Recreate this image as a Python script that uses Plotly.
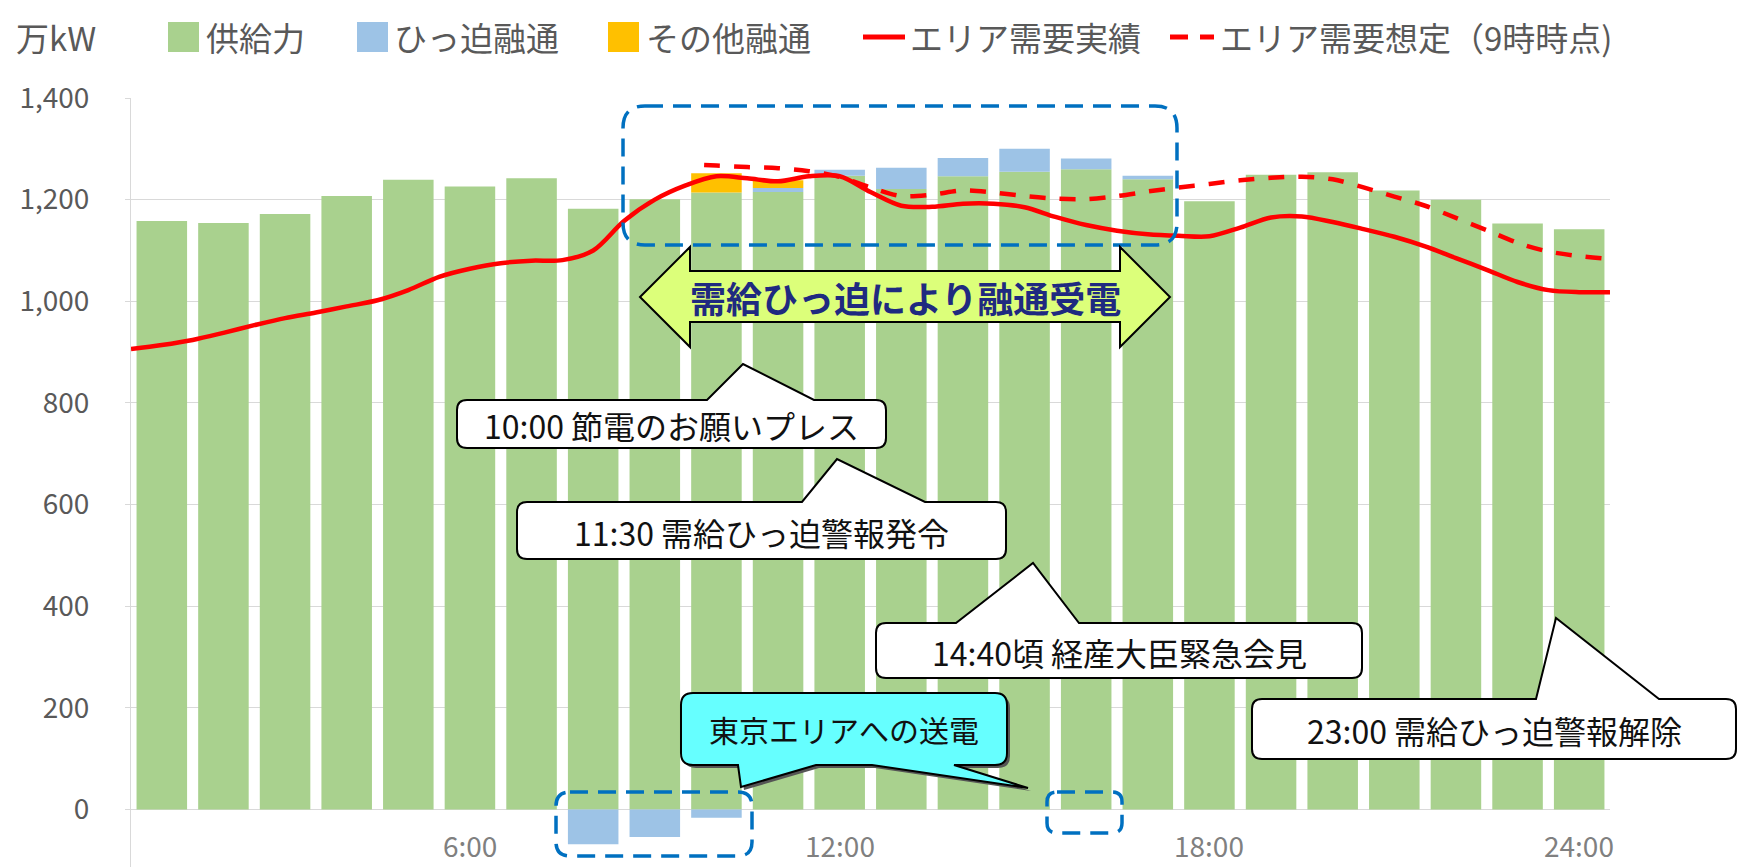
import plotly.graph_objects as go

# ---------------- data (万kW) ----------------
hours = list(range(1, 25))  # hour-ending slots 1..24
supply = [1158, 1154, 1172, 1207, 1239, 1226, 1242, 1182, 1201, 1214, 1215, 1247,
          1221, 1246, 1255, 1260, 1240, 1197, 1249, 1254, 1218, 1200, 1153, 1142]
tight_interchange = [0, 0, 0, 0, 0, 0, 0, -68, -54, -16, 8, 12,
                     42, 36, 45, 21, 7, 0, 0, 0, 0, 0, 0, 0]
other_interchange = [0, 0, 0, 0, 0, 0, 0, 0, 0, 38, 15, 0,
                     0, 0, 0, 0, 0, 0, 0, 0, 0, 0, 0, 0]

demand_times = [h / 2 for h in range(49)]  # 0:00 .. 24:00 every 30 min
demand_actual = [906, 914, 924, 938, 953, 967, 978, 990, 1002, 1022, 1048, 1064,
                 1075, 1080, 1081, 1100, 1158, 1200, 1228, 1246, 1242, 1236, 1246, 1246,
                 1215, 1188, 1186, 1192, 1192, 1185, 1166, 1150, 1139, 1132, 1129, 1128,
                 1145, 1165, 1167, 1156, 1142, 1127, 1108, 1085, 1062, 1038, 1022, 1018, 1018]

forecast_times = [9.3, 9.5, 10.0, 10.5, 11.0, 11.5, 12.0, 12.5, 13.0, 13.5, 14.0, 14.5,
                  15.0, 15.5, 16.0, 16.5, 17.0, 17.5, 18.0, 18.5, 19.0, 19.5, 20.0, 20.5,
                  21.0, 21.5, 22.0, 22.5, 23.0, 23.5, 24.0]
demand_forecast = [1268, 1267, 1264, 1262, 1256, 1245, 1224, 1207, 1210, 1218, 1214, 1207,
                   1202, 1201, 1207, 1216, 1224, 1231, 1238, 1243, 1245, 1240, 1224, 1206,
                   1188, 1164, 1140, 1115, 1098, 1089, 1083]

tick_hours = [6, 12, 18, 24]
tick_labels = ["6:00", "12:00", "18:00", "24:00"]
y_ticks = [0, 200, 400, 600, 800, 1000, 1200, 1400]

series_names = ["供給力", "ひっ迫融通", "その他融通", "エリア需要実績", "エリア需要想定（9時時点)"]
unit_label = "万kW"

# ---------------- styling ----------------
FONT = "Noto Sans CJK JP"
GREEN, BLUE, ORANGE, RED = "#A9D18E", "#9DC3E6", "#FFC000", "#FF0000"
FRAME_BLUE = "#0070C0"
GREY_TXT = "#595959"

W, H = 1739, 867
L, R, T, B = 131, 1610, 98, 867


def px(x):
    return (x - L) / (R - L)


def py(y):
    return (B - y) / (B - T)


def P(x, y):
    return f"{px(x):.5f},{py(y):.5f}"


def rounded_path(x0, y0, x1, y1, r, top_ptrs=(), bottom_ptrs=()):
    d = f"M{P(x0 + r, y0)}"
    for a, tip, b in sorted(top_ptrs):
        d += f" L{P(a, y0)} L{P(*tip)} L{P(b, y0)}"
    d += f" L{P(x1 - r, y0)} Q{P(x1, y0)} {P(x1, y0 + r)}"
    d += f" L{P(x1, y1 - r)} Q{P(x1, y1)} {P(x1 - r, y1)}"
    for a, tip, b in sorted(bottom_ptrs, reverse=True):
        d += f" L{P(b, y1)} L{P(*tip)} L{P(a, y1)}"
    d += f" L{P(x0 + r, y1)} Q{P(x0, y1)} {P(x0, y1 - r)}"
    d += f" L{P(x0, y0 + r)} Q{P(x0, y0)} {P(x0 + r, y0)} Z"
    return d


def label(x, y, text, size, color, xanchor="center", bold=False):
    return dict(xref="paper", yref="paper", x=px(x), y=py(y), xanchor=xanchor, yanchor="middle",
                showarrow=False, text=f"<b>{text}</b>" if bold else text,
                font=dict(family=FONT, size=size, color=color))


bar_x = [h - 0.5 for h in hours]

fig = go.Figure()
fig.add_trace(go.Bar(x=bar_x, y=supply, name=series_names[0], marker=dict(color=GREEN, line=dict(width=0))))
fig.add_trace(go.Bar(x=bar_x, y=tight_interchange, name=series_names[1], marker=dict(color=BLUE, line=dict(width=0))))
fig.add_trace(go.Bar(x=bar_x, y=other_interchange, name=series_names[2], marker=dict(color=ORANGE, line=dict(width=0))))
fig.add_trace(go.Scatter(x=demand_times, y=demand_actual, name=series_names[3], mode="lines",
                         line=dict(color=RED, width=4.5, shape="spline", smoothing=0.9)))
fig.add_trace(go.Scatter(x=forecast_times, y=demand_forecast, name=series_names[4], mode="lines",
                         line=dict(color=RED, width=4.5, dash="16px,14px", shape="spline", smoothing=0.9)))

shapes = []
annotations = []

# blue dashed highlight frames
for (x0, y0, x1, y1, r) in [(623, 106, 1177, 245, 22), (556, 792, 752, 856, 14), (1047, 792, 1122, 833, 10)]:
    shapes.append(dict(type="path", xref="paper", yref="paper", layer="above",
                       path=rounded_path(x0, y0, x1, y1, r),
                       line=dict(color=FRAME_BLUE, width=3.5, dash="18px,10px"),
                       fillcolor="rgba(0,0,0,0)"))

# double-headed arrow
arrow = [(640, 297), (690, 247), (690, 271), (1120, 271), (1120, 247), (1170, 297),
         (1120, 347), (1120, 322), (690, 322), (690, 347)]
arrow_path = "M" + " L".join(P(*p) for p in arrow) + " Z"
shapes.append(dict(type="path", xref="paper", yref="paper", layer="above", path=arrow_path,
                   fillcolor="#DCFF7A", line=dict(color="black", width=2)))
annotations.append(label(905, 297, "需給ひっ迫により融通受電", 36, "#1F2A80", bold=True))

# white callouts: box, pointer (base-left x, tip, base-right x), text
callouts = [
    ((457, 400, 886, 448), (707, (743, 364), 814), "10:00 節電のお願いプレス"),
    ((517, 502, 1006, 559), (802, (837, 459), 925), "11:30 需給ひっ迫警報発令"),
    ((876, 623, 1362, 678), (956, (1033, 563), 1079), "14:40頃 経産大臣緊急会見"),
    ((1252, 699, 1736, 759), (1536, (1556, 618), 1659), "23:00 需給ひっ迫警報解除"),
]
for (x0, y0, x1, y1), ptr, text in callouts:
    shapes.append(dict(type="path", xref="paper", yref="paper", layer="above",
                       path=rounded_path(x0, y0, x1, y1, 10, top_ptrs=[ptr]),
                       fillcolor="white", line=dict(color="black", width=2)))
    annotations.append(label((x0 + x1) / 2, (y0 + y1) / 2 + 1, text, 32, "#111111"))

# cyan callout with two tails
cy_box = (681, 693, 1007, 765)
cy_ptrs = [(738, (741, 787), 816), (872, (1028, 788), 954)]
sx, sy = 3, 3
shapes.append(dict(type="path", xref="paper", yref="paper", layer="above",
                   path=rounded_path(cy_box[0] + sx, cy_box[1] + sy, cy_box[2] + sx, cy_box[3] + sy, 12,
                                     bottom_ptrs=[(a + sx, (t[0] + sx, t[1] + sy), b + sx) for a, t, b in cy_ptrs]),
                   fillcolor="#555555", line=dict(width=0)))
shapes.append(dict(type="path", xref="paper", yref="paper", layer="above",
                   path=rounded_path(*cy_box, 12, bottom_ptrs=cy_ptrs),
                   fillcolor="#66FFFF", line=dict(color="black", width=2)))
annotations.append(label((cy_box[0] + cy_box[2]) / 2, 729, "東京エリアへの送電", 30, "#111111"))

# legend row
LEG_Y = 37
annotations.append(label(14, LEG_Y, unit_label, 33, GREY_TXT, xanchor="left"))
for (sq_x, color), tx, name in zip([(168, GREEN), (357, BLUE), (608, ORANGE)], [204, 392, 644], series_names[:3]):
    shapes.append(dict(type="rect", xref="paper", yref="paper", x0=px(sq_x), x1=px(sq_x + 31),
                       y0=py(LEG_Y - 15), y1=py(LEG_Y + 15), fillcolor=color, line=dict(width=0)))
    annotations.append(label(tx, LEG_Y, name, 33, GREY_TXT, xanchor="left"))
shapes.append(dict(type="line", xref="paper", yref="paper", x0=px(863), x1=px(905),
                   y0=py(LEG_Y), y1=py(LEG_Y), line=dict(color=RED, width=5)))
annotations.append(label(908, LEG_Y, series_names[3], 33, GREY_TXT, xanchor="left"))
for a, b in [(1170, 1188), (1200, 1214)]:
    shapes.append(dict(type="line", xref="paper", yref="paper", x0=px(a), x1=px(b),
                       y0=py(LEG_Y), y1=py(LEG_Y), line=dict(color=RED, width=5)))
annotations.append(label(1218, LEG_Y, series_names[4], 33, GREY_TXT, xanchor="left"))

# x-axis labels sitting at the bottom edge
for h, lab in zip(tick_hours, tick_labels):
    annotations.append(dict(xref="x", yref="paper", x=h - 0.5, y=py(845), xanchor="center", yanchor="middle",
                            showarrow=False, text=lab, font=dict(family=FONT, size=28, color="#808080")))

fig.update_layout(
    width=W, height=H,
    margin=dict(l=L, r=W - R, t=T, b=H - B, pad=0),
    barmode="relative", bargap=0.18,
    plot_bgcolor="white", paper_bgcolor="white",
    showlegend=False,
    font=dict(family=FONT, color=GREY_TXT),
    shapes=shapes, annotations=annotations,
    xaxis=dict(range=[0, 24], showticklabels=False, showgrid=False, zeroline=False,
               showline=False, ticks=""),
    yaxis=dict(range=[-113, 1400], tickvals=y_ticks, tickformat=",d",
               showgrid=True, gridcolor="#D9D9D9", gridwidth=1, zeroline=False,
               showline=True, linecolor="#D9D9D9", linewidth=1,
               ticks="outside", ticklen=5, tickcolor="#D9D9D9",
               ticklabelstandoff=30,
               tickfont=dict(family=FONT, size=28, color=GREY_TXT)),
)

fig.write_html("out.html")
